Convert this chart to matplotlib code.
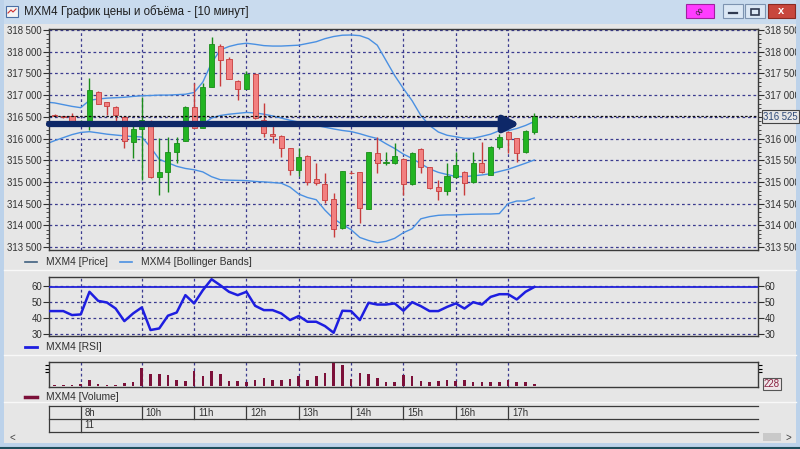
import numpy as np
import matplotlib.pyplot as plt
import matplotlib.transforms as mtransforms
from matplotlib.patches import Rectangle
from matplotlib.lines import Line2D
from matplotlib.ticker import MultipleLocator, FuncFormatter

# Data: 10-minute candles, index 0..55
opens = [316540, 316510, 316525, 316375, 316390, 317080, 316830, 316726, 316503, 315927,
         316212, 316411, 315120, 315235, 315697, 315950, 316733, 316250, 317194, 318138,
         317825, 317332, 317134, 317486, 316426, 316115, 316058, 315774, 315275, 315597,
         315060, 314952, 314599, 313931, 315210, 315221, 314376, 315659, 315430, 315429,
         315528, 314945, 315758, 315335, 314876, 314798, 315121, 315221, 314991, 315430,
         315159, 315812, 316143, 316005, 315682, 316143]
highs = [316560, 316520, 316580, 316420, 317390, 317100, 316840, 316740, 316520, 316311,
         316964, 316420, 316005, 316042, 316042, 316760, 317272, 317280, 318346, 318180,
         317880, 317340, 317555, 317500, 316811, 316350, 316070, 315790, 315775, 315610,
         315443, 315198, 314752, 315260, 315240, 315230, 315700, 316042, 315697, 315890,
         315540, 315700, 315770, 315340, 315045, 315436, 315697, 315240, 315697, 315930,
         315820, 316110, 316170, 316020, 316200, 316580]
lows = [316510, 316480, 316360, 316340, 316200, 316790, 316540, 316387, 315788, 315544,
        315044, 315100, 314698, 314760, 315429, 315940, 316240, 316240, 317190, 317210,
        317360, 316887, 317130, 316440, 316042, 315890, 315580, 315159, 315136, 314929,
        314940, 314525, 313738, 313920, 315180, 314046, 314370, 315213, 315400, 315420,
        314698, 314940, 315198, 314840, 314583, 314698, 315100, 314698, 314985, 315200,
        315150, 315760, 315660, 315470, 315670, 316100]
closes = [316520, 316490, 316375, 316390, 317120, 316795, 316750, 316542, 315950, 316212,
          316426, 315106, 315221, 315697, 315890, 316733, 316250, 317180, 318170, 317809,
          317364, 317134, 317486, 316466, 316120, 316060, 315788, 315275, 315567, 315005,
          314968, 314583, 313908, 315251, 315200, 314392, 315689, 315443, 315450, 315597,
          314945, 315659, 315350, 314853, 314798, 315136, 315390, 314982, 315429, 315235,
          315812, 316042, 315989, 315673, 316173, 316525]

# Bollinger bands, index -1..55
bb_upper = [316840, 316820, 316780, 316740, 316710, 316880, 316910, 316930, 316940, 316950,
            316970, 316985, 316990, 317000, 317000, 317010, 317020, 317060, 317300, 317740,
            318040, 318120, 318170, 318195, 318170, 318140, 318130, 318130, 318140, 318150,
            318190, 318230, 318300, 318350, 318380, 318385, 318370, 318300, 318150, 317800,
            317450, 317150, 316870, 316530, 316300, 316150, 316075, 316040, 316005, 316005,
            316050, 316100, 316180, 316180, 316230, 316300, 316390]
bb_middle = [316350, 316350, 316345, 316340, 316340, 316345, 316350, 316350, 316345, 316340,
             316335, 316330, 316320, 316315, 316310, 316310, 316310, 316320, 316330, 316470,
             316530, 316560, 316580, 316600, 316590, 316560, 316520, 316470, 316420, 316380,
             316340, 316300, 316260, 316220, 316185, 316160, 316110, 316050, 316000, 315880,
             315770, 315640, 315540, 315420, 315300, 315220, 315170, 315125, 315120, 315140,
             315160, 315190, 315240, 315290, 315360, 315430, 315505]
bb_lower = [315870, 315950, 316020, 316090, 316140, 316157, 316130, 316100, 316080, 316060,
            316045, 316035, 315800, 315520, 315440, 315360, 315310, 315280, 315230, 315120,
            315050, 315040, 315035, 315030, 315010, 315000, 314985, 314970, 314880, 314720,
            314640, 314590, 314350, 314150, 314020, 313900, 313720, 313650, 313600, 313630,
            313700, 313830, 313920, 314150, 314200, 314230, 314240, 314240, 314250, 314255,
            314260, 314260, 314270, 314500, 314560, 314560, 314630]

# RSI, index -1..55
rsi = [44.4, 44.4, 44.4, 41.9, 42.3, 56.5, 50.8, 49.8, 46.0, 38.1, 42.9,
       46.7, 32.5, 33.5, 41.5, 43.5, 54.4, 49.2, 57.5, 64.4, 60.6,
       56.5, 54.4, 56.5, 47.7, 45.0, 45.0, 42.9, 38.75, 41.3, 37.7,
       37.7, 35.0, 30.8, 44.6, 44.4, 38.75, 49.6, 48.5, 48.5, 49.2,
       44.6, 50.0, 47.5, 44.4, 44.4, 47.0, 49.2, 46.0, 50.0, 48.5,
       53.3, 55.0, 55.0, 51.7, 56.5, 59.5]
rsi_level = 59.5

volumes = [140, 140, 140, 170, 570, 200, 140, 140, 285, 370,
           1600, 1030, 1030, 940, 570, 460, 1310, 855, 1310, 1030,
           430, 430, 370, 570, 710, 570, 570, 655, 855, 570,
           855, 1140, 2000, 1800, 655, 1170, 1030, 740, 370, 370,
           940, 855, 460, 370, 460, 570, 460, 510, 370, 370,
           370, 370, 510, 370, 370, 228]

hour_idx = [3, 10, 16, 22, 28, 34, 40, 46, 52]
hour_labels = ["8h", "10h", "11h", "12h", "13h", "14h", "15h", "16h", "17h"]
day_label = "11"

last_price = 316525
arrow_level = 316334
arrow_end = 53.4

W, H = 800, 449
BG = "#e6e6e6"
GRID = "#3b3b8f"
GRID_LS = (0, (2.2, 2.2))
TXT = "#303030"
FS = 6.9


def box(l, t, r, b):
    return [l / W, 1 - b / H, (r - l) / W, (b - t) / H]


def fy(py):
    return 1 - py / H


def space_fmt(v, pos=None):
    return f"{v:,.0f}".replace(",", " ")


plt.rcParams["font.family"] = ["Liberation Sans", "DejaVu Sans"]
fig = plt.figure(figsize=(8, 4.49), dpi=100, facecolor=BG)

# window chrome
fig.patches.append(Rectangle((0, fy(24)), 1, 24 / H, transform=fig.transFigure,
                             facecolor="#c9dbee", edgecolor="none", zorder=0))
fig.patches.append(Rectangle((0, 0), 4 / W, 1, transform=fig.transFigure,
                             facecolor="#bcd2ea", edgecolor="none", zorder=0))
fig.patches.append(Rectangle((796 / W, 0), 4 / W, 1, transform=fig.transFigure,
                             facecolor="#bcd2ea", edgecolor="none", zorder=0))
fig.patches.append(Rectangle((0, 0), 1, 6 / H, transform=fig.transFigure,
                             facecolor="#bcd2ea", edgecolor="none", zorder=0))
fig.add_artist(Line2D([0, 1], [fy(448), fy(448)], color="#1f4d5c", lw=1.5))
fig.patches.append(Rectangle((6 / W, fy(17)), 12 / W, 11 / H, transform=fig.transFigure,
                             facecolor="#f4f4f4", edgecolor="#4a6fa5", lw=0.8))
fig.add_artist(Line2D([8 / W, 11 / W, 13 / W, 16 / W], [fy(13), fy(10), fy(12), fy(9)],
                      color="#d03030", lw=0.8))
fig.text(24 / W, fy(11.5), "MXM4 График цены и объёма - [10 минут]", fontsize=8.3,
         color="#1e1e1e", va="center", ha="left")
# title buttons
fig.patches.append(Rectangle((686 / W, fy(18)), 28 / W, 14 / H, transform=fig.transFigure,
                             facecolor="#ff3cff", edgecolor="#a020a0", lw=0.8))
fig.text(700 / W, fy(11), "∞", fontsize=8, color="#202020", ha="center", va="center",
         rotation=45, family="DejaVu Sans")
for l, r in [(723, 743), (745, 765)]:
    fig.patches.append(Rectangle((l / W, fy(18)), (r - l) / W, 14 / H, transform=fig.transFigure,
                                 facecolor="#dbe7f4", edgecolor="#7d93b0", lw=0.8))
fig.add_artist(Line2D([729 / W, 737 / W], [fy(13), fy(13)], color="#303a50", lw=1.6))
fig.patches.append(Rectangle((751 / W, fy(15)), 8 / W, 6 / H, transform=fig.transFigure,
                             facecolor="none", edgecolor="#303a50", lw=1.2))
fig.patches.append(Rectangle((768 / W, fy(18)), 27 / W, 14 / H, transform=fig.transFigure,
                             facecolor="#c8473d", edgecolor="#8a2a22", lw=0.8))
fig.text(781.5 / W, fy(11), "x", fontsize=8, color="white", ha="center", va="center",
         fontweight="bold")

# axes
ax_p = fig.add_axes(box(49, 29, 758, 250))
ax_r = fig.add_axes(box(49, 277, 758, 336))
ax_v = fig.add_axes(box(49, 362, 758, 387))
xlim = (-0.64, 80.66)

for ax in (ax_p, ax_r, ax_v):
    ax.set_facecolor(BG)
    ax.set_xlim(*xlim)
    ax.set_xticks(hour_idx)
    ax.tick_params(axis="x", length=0, labelbottom=False)
    ax.grid(True, axis="x", color=GRID, ls=GRID_LS, lw=0.9)
    for s in ax.spines.values():
        s.set_color("#3a3a3a")
        s.set_linewidth(1.0)
    ax.set_axisbelow(True)

# price panel
ax_p.set_ylim(313431, 318523)
ax_p.yaxis.set_major_locator(MultipleLocator(500))
ax_p.yaxis.set_minor_locator(MultipleLocator(100))
ax_p.yaxis.set_major_formatter(FuncFormatter(space_fmt))
ax_p.tick_params(axis="y", which="both", left=True, right=True, labelleft=True,
                 labelright=True, direction="out", labelsize=FS, pad=1,
                 colors=TXT)
ax_p.tick_params(axis="y", which="major", length=4)
ax_p.tick_params(axis="y", which="minor", length=2)
ax_p.grid(True, axis="y", color=GRID, ls=GRID_LS, lw=0.9)

idx = np.arange(len(opens))
bb_idx = np.arange(-1, len(opens))
for band in (bb_upper, bb_middle, bb_lower):
    ax_p.plot(bb_idx, band, color="#4a90e2", lw=1.0, zorder=2)

for i in idx:
    o, h, l, c = opens[i], highs[i], lows[i], closes[i]
    up = c >= o
    fill = "#22b422" if up else "#f28080"
    edge = "#1a8c1a" if up else "#c83c3c"
    ax_p.vlines(i, l, h, color=edge, lw=1.0, zorder=3)
    ax_p.bar(i, max(abs(c - o), 15), bottom=min(o, c), width=0.58, color=fill,
             edgecolor=edge, lw=0.6, zorder=4)

ax_p.axhline(last_price, color="#101010", ls=(0, (2, 1.5)), lw=0.9, zorder=5)
ax_p.annotate("", xy=(arrow_end, arrow_level), xytext=(xlim[0], arrow_level),
              arrowprops=dict(arrowstyle="-|>,head_length=0.9,head_width=0.45",
                              lw=4.5, color="#0e2868", shrinkA=0, shrinkB=0),
              zorder=6)

# the last-price box covers the right label of the nearest level
fig.canvas.draw()
for t in ax_p.yaxis.get_major_ticks():
    if abs(t.get_loc() - last_price) < 250:
        t.label2.set_visible(False)
fig.text(763 / W, fy(116.5), space_fmt(last_price), fontsize=FS, color="#2e4a78",
         va="center", ha="left",
         bbox=dict(boxstyle="square,pad=0.15", facecolor=BG, edgecolor="#444444", lw=0.8))

# RSI panel
ax_r.set_ylim(28.75, 65.8)
ax_r.set_yticks([30, 40, 50, 60])
ax_r.tick_params(axis="y", left=True, right=True, labelleft=True, labelright=True,
                 direction="out", labelsize=FS, pad=1, length=4, colors=TXT)
ax_r.grid(True, axis="y", color=GRID, ls=GRID_LS, lw=0.9)
ax_r.axhline(rsi_level, color="#2424d8", lw=1.3, zorder=3)
ax_r.plot(bb_idx, rsi, color="#1e1ee0", lw=1.8, zorder=4)

# Volume panel
ax_v.set_ylim(-60, 2080)
ax_v.set_yticks([1200, 1500, 1800])
ax_v.tick_params(axis="y", left=True, right=True, labelleft=False, labelright=False,
                 direction="out", length=3)
ax_v.bar(idx, volumes, width=0.3, color="#7c1039", zorder=3)
fig.text(764 / W, fy(384), str(volumes[-1]), fontsize=FS, color="#8a2040",
         va="center", ha="left",
         bbox=dict(boxstyle="square,pad=0.15", facecolor="#f0e6ea", edgecolor="#555555", lw=0.8))


# legends
def legend_item(x_line, y, label, color, lw):
    fig.add_artist(Line2D([x_line / W, (x_line + 12) / W], [fy(y), fy(y)], color=color, lw=lw))
    fig.text((x_line + 21) / W, fy(y), label, fontsize=7.4, color=TXT,
             va="center", ha="left")


legend_item(25, 262, "MXM4 [Price]", "#40607f", 1.2)
legend_item(120, 262, "MXM4 [Bollinger Bands]", "#4a90e2", 1.2)
legend_item(25, 347, "MXM4 [RSI]", "#1e1ee0", 2.0)
legend_item(25, 397, "MXM4 [Volume]", "#7c1039", 2.5)

# separators between panes
for y in (270, 355, 402):
    fig.add_artist(Line2D([4 / W, 796 / W], [fy(y), fy(y)], color="#f8f8f8", lw=1.0))

# time table
tr = mtransforms.blended_transform_factory(ax_p.transData, fig.transFigure)
for y in (406, 419, 432):
    fig.add_artist(Line2D([49 / W, 758 / W], [fy(y), fy(y)], color="#3a3a3a", lw=0.9))
fig.add_artist(Line2D([49 / W, 49 / W], [fy(406), fy(432)], color="#3a3a3a", lw=0.9))
for k, (hi, lab) in enumerate(zip(hour_idx, hour_labels)):
    y_bot = 432 if k == 0 else 419
    fig.add_artist(Line2D([hi, hi], [fy(406), fy(y_bot)], color="#3a3a3a", lw=0.9,
                          transform=tr))
    ax_p.text(hi + 0.45, fy(412.5), lab, transform=tr, fontsize=FS, color=TXT,
              va="center", ha="left", clip_on=False)
ax_p.text(hour_idx[0] + 0.45, fy(425.5), day_label, transform=tr, fontsize=FS,
          color=TXT, va="center", ha="left", clip_on=False)

# scroll bar
fig.text(12 / W, fy(437.5), "<", fontsize=7, color="#404040", va="center", ha="center")
fig.text(788 / W, fy(437.5), ">", fontsize=7, color="#404040", va="center", ha="center")
fig.patches.append(Rectangle((763 / W, fy(441)), 18 / W, 8 / H, transform=fig.transFigure,
                             facecolor="#c9c9c9", edgecolor="none"))

fig.savefig("out.png", dpi=100, facecolor=BG)
